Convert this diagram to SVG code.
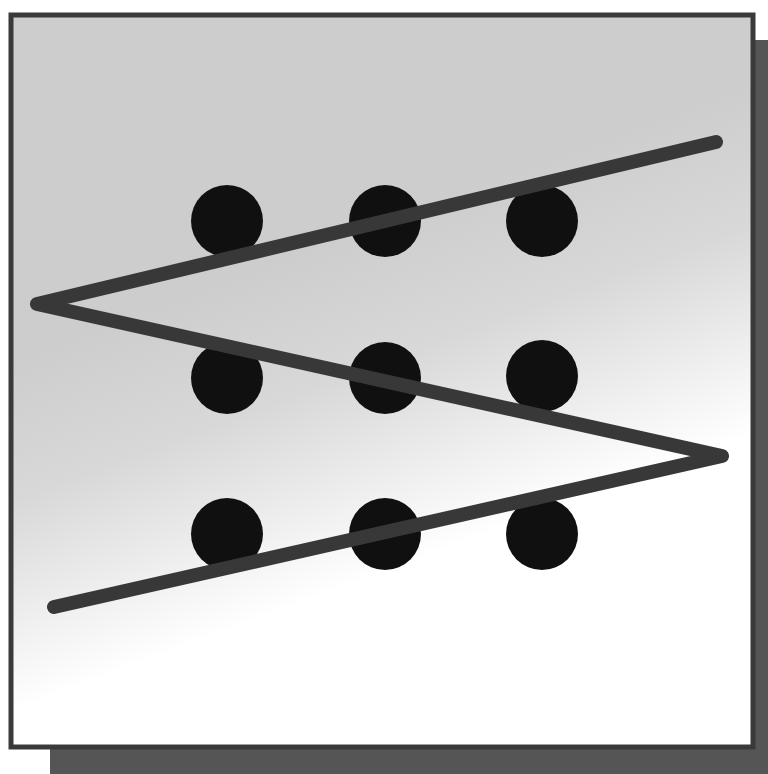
<svg xmlns="http://www.w3.org/2000/svg" width="768" height="774" viewBox="0 0 768 774">
<style>
.dot{fill:#101010}
.ln{fill:none;stroke:#383838;stroke-width:14;stroke-linecap:round;stroke-linejoin:round}
</style>
<defs>
<linearGradient id="bg" x1="0.4" y1="0.32" x2="0.56" y2="0.74">
<stop offset="0" stop-color="#cdcdcd"/>
<stop offset="0.4" stop-color="#d8d8d8"/>
<stop offset="1" stop-color="#ffffff"/>
</linearGradient>
</defs>
<rect width="768" height="774" fill="#ffffff"/>
<rect id="shadow" x="50" y="40" width="718" height="734" fill="#555555"/>
<rect id="frame" x="11" y="15" width="742" height="732" fill="url(#bg)" stroke="#3a3a3a" stroke-width="5"/>
<g id="nodes">
<g id="d11"><circle class="dot" cx="227" cy="221" r="36"/></g>
<g id="d12"><circle class="dot" cx="385" cy="221" r="36"/></g>
<g id="d13"><circle class="dot" cx="542" cy="221" r="36"/></g>
<g id="d21"><circle class="dot" cx="227" cy="378" r="36"/></g>
<g id="d22"><circle class="dot" cx="385" cy="378" r="36"/></g>
<g id="d23"><circle class="dot" cx="542" cy="376" r="36"/></g>
<g id="d31"><circle class="dot" cx="227" cy="534" r="36"/></g>
<g id="d32"><circle class="dot" cx="385" cy="534" r="36"/></g>
<g id="d33"><circle class="dot" cx="542" cy="534" r="36"/></g>
</g>
<g id="connectors">
<polyline class="ln" points="716,142 37,304 722,456 54,607"/>
</g>
</svg>
